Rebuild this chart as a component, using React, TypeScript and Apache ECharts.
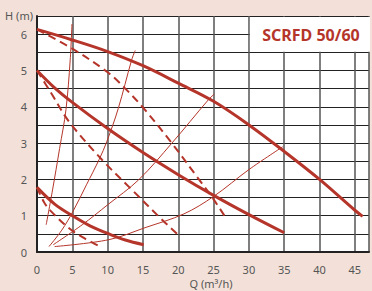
import React, { useEffect, useRef } from "react";
import * as echarts from "echarts";

// Pump curves: [Q (m³/h), H (m)]
const solidTop: number[][] = [[0, 6.13], [5, 5.84], [10, 5.52], [15, 5.13], [20, 4.65], [25, 4.15], [30, 3.5], [35, 2.77], [40, 2.0], [45, 1.15], [46.1, 0.98]];
const solidMid: number[][] = [[0, 5.0], [2.5, 4.52], [5, 4.12], [10, 3.4], [15, 2.74], [20, 2.13], [25, 1.56], [30, 1.03], [35, 0.53]];
const solidBot: number[][] = [[0, 1.78], [2.5, 1.32], [5, 1.0], [7.5, 0.72], [10.4, 0.48], [12.5, 0.33], [15.1, 0.2]];
const dashTop: number[][] = [[0, 6.13], [5, 5.6], [10, 4.95], [12.5, 4.5], [15, 3.98], [19, 3.02], [23, 1.98], [25, 1.45], [26.6, 0.98]];
const dashMid: number[][] = [[0, 5.0], [2, 4.38], [4.5, 3.6], [9.2, 2.54], [13.2, 1.76], [17.7, 0.89], [20, 0.47]];
const dashBot: number[][] = [[0, 1.78], [1, 1.37], [2, 1.12], [4.5, 0.66], [6.5, 0.4], [8.6, 0.18]];
// System curves (thin)
const sysA: number[][] = [[1.3, 0.75], [2.2, 1.71], [3.2, 2.85], [4.1, 3.92], [4.7, 5.29], [4.95, 6.28]];
const sysB: number[][] = [[1.7, 0.15], [3.5, 0.6], [5.1, 1.12], [7.0, 1.85], [8.8, 2.55], [9.9, 3.05], [11.5, 3.95], [13.4, 5.29], [13.9, 5.55]];
const sysC: number[][] = [[2.3, 0.2], [6.4, 0.75], [10, 1.3], [14.4, 1.99], [19.1, 3.0], [24.25, 4.19], [25.1, 4.35]];
const sysD: number[][] = [[2.5, 0.15], [10.2, 0.34], [15.3, 0.67], [20.8, 1.05], [25, 1.53], [30, 2.27], [34.8, 2.9]];

const xTicks = [0, 5, 10, 15, 20, 25, 30, 35, 40, 45];
const yTicks = [0, 1, 2, 3, 4, 5, 6];
const title = "SCRFD 50/60";
const xName = "Q (m³/h)";
const yName = "H (m)";

const RED = "#b5352a";

export default function App() {
  const ref = useRef<HTMLDivElement>(null);
  useEffect(() => {
    if (!ref.current) return;
    const chart = echarts.init(ref.current, undefined, { renderer: "svg" });
    const font = "'Noto Sans', sans-serif";
    const thick = (data: number[][]) => ({
      type: "line", data, smooth: 0.35, symbol: "none", z: 5,
      lineStyle: { color: RED, width: 3 },
    });
    const dashed = (data: number[][]) => ({
      type: "line", data, smooth: 0.35, symbol: "none", z: 4,
      lineStyle: { color: RED, width: 2, type: [8, 5] },
    });
    const thin = (data: number[][]) => ({
      type: "line", data, smooth: 0.35, symbol: "none", z: 3,
      lineStyle: { color: RED, width: 1 },
    });
    chart.setOption({
      animation: false,
      backgroundColor: "#f3e1d9",
      grid: { left: 37, right: 0, top: 16, bottom: 39, show: true, backgroundColor: "#ffffff", borderWidth: 0 },
      xAxis: {
        type: "value", min: 0, max: 47, interval: 5,
        axisLine: { show: true, onZero: false, lineStyle: { color: "#222", width: 2 } },
        axisTick: { show: false },
        splitLine: { show: true, lineStyle: { color: "#555", width: 1.5 } },
        axisLabel: {
          color: "#555", fontSize: 11, fontFamily: font, margin: 12,
          formatter: (v: number) => (xTicks.includes(v) ? String(v) : ""),
        },
      },
      yAxis: {
        type: "value", min: 0, max: 6.5, interval: 0.5,
        axisLine: { show: true, onZero: false, lineStyle: { color: "#222", width: 2 } },
        axisTick: { show: false },
        splitLine: { show: true, lineStyle: { color: "#222", width: 1.2 } },
        axisLabel: {
          color: "#555", fontSize: 11, fontFamily: font, margin: 10,
          formatter: (v: number) => (yTicks.includes(v) ? String(v) : ""),
        },
      },
      series: [
        thin(sysA), thin(sysB), thin(sysC), thin(sysD),
        dashed(dashTop), dashed(dashMid), dashed(dashBot),
        thick(solidTop), thick(solidMid), thick(solidBot),
      ],
    });
    const p1 = chart.convertToPixel({ gridIndex: 0 }, [30, 6.5]) as number[];
    const p2 = chart.convertToPixel({ gridIndex: 0 }, [47, 5.5]) as number[];
    chart.setOption({
      graphic: [
        {
          type: "rect", z: 100,
          shape: { x: p1[0] + 1, y: p1[1] + 1, width: p2[0] - p1[0], height: p2[1] - p1[1] - 1.5 },
          style: { fill: "#ffffff" },
        },
        {
          type: "text", z: 101, x: (p1[0] + p2[0]) / 2 + 2, y: (p1[1] + p2[1]) / 2 + 1,
          style: { text: title, fill: RED, font: `bold 16px ${font}`, align: "center", verticalAlign: "middle" },
        },
        {
          type: "text", z: 101, x: 33, y: 15,
          style: { text: yName, fill: "#555", font: `11px ${font}`, align: "right", verticalAlign: "middle" },
        },
        {
          type: "text", z: 101, x: 211, y: 283,
          style: { text: xName, fill: "#555", font: `11px ${font}`, align: "center", verticalAlign: "middle" },
        },
      ],
    });
    return () => chart.dispose();
  }, []);
  return <div ref={ref} style={{ width: 372, height: 291, position: "absolute", left: 0, top: 0 }} />;
}
